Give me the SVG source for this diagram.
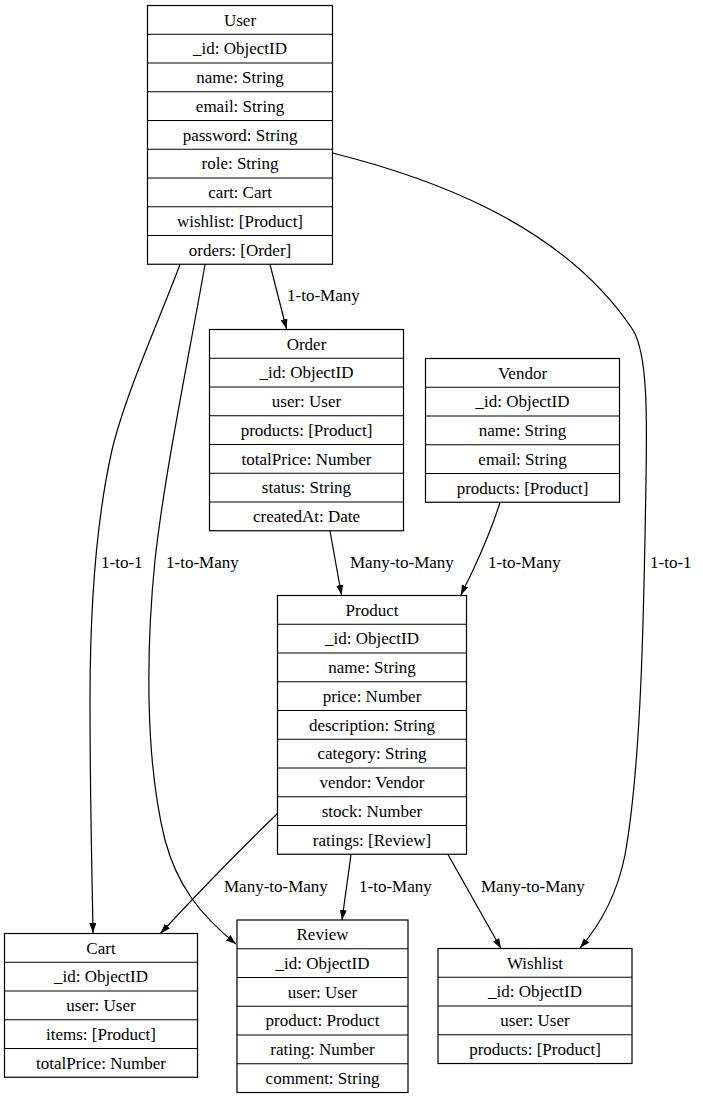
<svg xmlns="http://www.w3.org/2000/svg" width="703" height="1098" viewBox="0 0 703 1098" font-family="'Liberation Serif', 'Times New Roman', serif">
<style>
.box{fill:#fff;stroke:#000;stroke-width:1.2}
.div{stroke:#000;stroke-width:1}
text{font-family:'Liberation Serif','Times New Roman',serif;font-size:17px;fill:#000}
.c{text-anchor:middle}
.e{fill:none;stroke:#000;stroke-width:1.2}
</style>
<defs>
<marker id="ah" viewBox="0 0 10 7" refX="10" refY="3.5" markerWidth="10" markerHeight="7" markerUnits="userSpaceOnUse" orient="auto">
<path d="M0,0 L10,3.5 L0,7 z" fill="#000"/>
</marker>
</defs>
<rect width="703" height="1098" fill="#fff"/>
<g id="connectors">
<path class="e" marker-end="url(#ah)" d="M270,264.5 L286.5,329"/>
<text x="287" y="301">1-to-Many</text>
<path class="e" marker-end="url(#ah)" d="M180,264.5 C160,318 125,395 112,450 C94,530 90,620 90,700 C90,800 92,870 93,933"/>
<text x="101" y="568">1-to-1</text>
<path class="e" marker-end="url(#ah)" d="M205,264.5 C192,340 165,470 155,560 C146,650 145,760 165,840 C177,885 200,915 236,944"/>
<text x="166" y="568">1-to-Many</text>
<path class="e" marker-end="url(#ah)" d="M332.5,153 C420,175 560,220 633,330 C648,355 647,420 646,480 C644,600 642,760 625,855 C617,895 600,925 580,948"/>
<text x="650" y="568">1-to-1</text>
<path class="e" marker-end="url(#ah)" d="M330,531 L341.5,595"/>
<text x="350" y="568">Many-to-Many</text>
<path class="e" marker-end="url(#ah)" d="M500,502.5 C492,528 480,555 474,568 C470,577 465,586 461,595"/>
<text x="488" y="568">1-to-Many</text>
<path class="e" marker-end="url(#ah)" d="M278,813 C245,845 205,885 160.5,933.5"/>
<text x="224" y="892">Many-to-Many</text>
<path class="e" marker-end="url(#ah)" d="M351,854.5 L342,920"/>
<text x="359" y="892">1-to-Many</text>
<path class="e" marker-end="url(#ah)" d="M448,854.5 L501,948.5"/>
<text x="481" y="892">Many-to-Many</text>
</g>
<g id="User">
<rect class="box" x="147.5" y="5.5" width="185" height="258.75"/>
<path class="div" d="M147.5,34.25H332.5M147.5,63H332.5M147.5,91.75H332.5M147.5,120.5H332.5M147.5,149.25H332.5M147.5,178H332.5M147.5,206.75H332.5M147.5,235.5H332.5"/>
<text class="c" x="240" y="25.5">User</text>
<text class="c" x="240" y="54.25">_id: ObjectID</text>
<text class="c" x="240" y="83">name: String</text>
<text class="c" x="240" y="111.75">email: String</text>
<text class="c" x="240" y="140.5">password: String</text>
<text class="c" x="240" y="169.25">role: String</text>
<text class="c" x="240" y="198">cart: Cart</text>
<text class="c" x="240" y="226.75">wishlist: [Product]</text>
<text class="c" x="240" y="255.5">orders: [Order]</text>
</g>
<g id="Order">
<rect class="box" x="209.5" y="329.5" width="194" height="201.25"/>
<path class="div" d="M209.5,358.25H403.5M209.5,387H403.5M209.5,415.75H403.5M209.5,444.5H403.5M209.5,473.25H403.5M209.5,502H403.5"/>
<text class="c" x="306.5" y="349.5">Order</text>
<text class="c" x="306.5" y="378.25">_id: ObjectID</text>
<text class="c" x="306.5" y="407">user: User</text>
<text class="c" x="306.5" y="435.75">products: [Product]</text>
<text class="c" x="306.5" y="464.5">totalPrice: Number</text>
<text class="c" x="306.5" y="493.25">status: String</text>
<text class="c" x="306.5" y="522">createdAt: Date</text>
</g>
<g id="Vendor">
<rect class="box" x="425.5" y="358.5" width="194" height="143.75"/>
<path class="div" d="M425.5,387.25H619.5M425.5,416H619.5M425.5,444.75H619.5M425.5,473.5H619.5"/>
<text class="c" x="522.5" y="378.5">Vendor</text>
<text class="c" x="522.5" y="407.25">_id: ObjectID</text>
<text class="c" x="522.5" y="436">name: String</text>
<text class="c" x="522.5" y="464.75">email: String</text>
<text class="c" x="522.5" y="493.5">products: [Product]</text>
</g>
<g id="Product">
<rect class="box" x="277.5" y="595.5" width="189" height="258.75"/>
<path class="div" d="M277.5,624.25H466.5M277.5,653H466.5M277.5,681.75H466.5M277.5,710.5H466.5M277.5,739.25H466.5M277.5,768H466.5M277.5,796.75H466.5M277.5,825.5H466.5"/>
<text class="c" x="372" y="615.5">Product</text>
<text class="c" x="372" y="644.25">_id: ObjectID</text>
<text class="c" x="372" y="673">name: String</text>
<text class="c" x="372" y="701.75">price: Number</text>
<text class="c" x="372" y="730.5">description: String</text>
<text class="c" x="372" y="759.25">category: String</text>
<text class="c" x="372" y="788">vendor: Vendor</text>
<text class="c" x="372" y="816.75">stock: Number</text>
<text class="c" x="372" y="845.5">ratings: [Review]</text>
</g>
<g id="Cart">
<rect class="box" x="4.5" y="933.5" width="193" height="143.75"/>
<path class="div" d="M4.5,962.25H197.5M4.5,991H197.5M4.5,1019.75H197.5M4.5,1048.5H197.5"/>
<text class="c" x="101" y="953.5">Cart</text>
<text class="c" x="101" y="982.25">_id: ObjectID</text>
<text class="c" x="101" y="1011">user: User</text>
<text class="c" x="101" y="1039.75">items: [Product]</text>
<text class="c" x="101" y="1068.5">totalPrice: Number</text>
</g>
<g id="Review">
<rect class="box" x="237" y="920" width="171" height="172.5"/>
<path class="div" d="M237,948.75H408M237,977.5H408M237,1006.25H408M237,1035H408M237,1063.75H408"/>
<text class="c" x="322.5" y="940">Review</text>
<text class="c" x="322.5" y="968.75">_id: ObjectID</text>
<text class="c" x="322.5" y="997.5">user: User</text>
<text class="c" x="322.5" y="1026.25">product: Product</text>
<text class="c" x="322.5" y="1055">rating: Number</text>
<text class="c" x="322.5" y="1083.75">comment: String</text>
</g>
<g id="Wishlist">
<rect class="box" x="438" y="948.5" width="194" height="115"/>
<path class="div" d="M438,977.25H632M438,1006H632M438,1034.75H632"/>
<text class="c" x="535" y="968.5">Wishlist</text>
<text class="c" x="535" y="997.25">_id: ObjectID</text>
<text class="c" x="535" y="1026">user: User</text>
<text class="c" x="535" y="1054.75">products: [Product]</text>
</g>
</svg>
